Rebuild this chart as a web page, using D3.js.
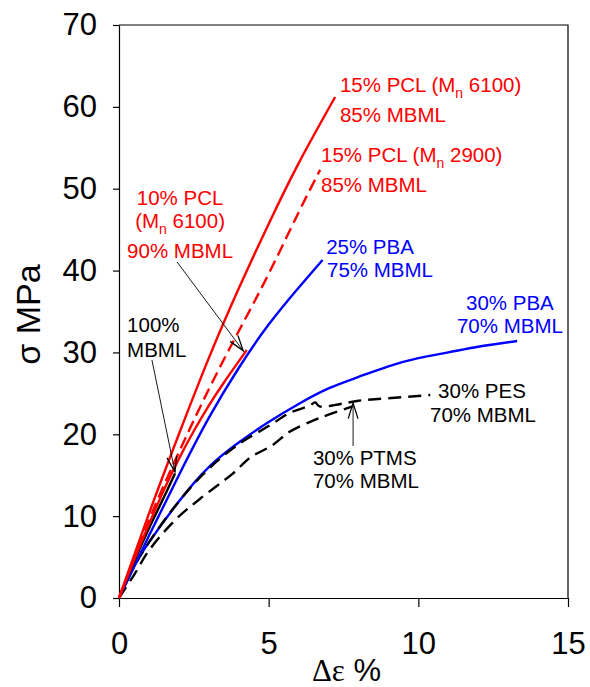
<!DOCTYPE html>
<html>
<head>
<meta charset="utf-8">
<script src="https://cdn.jsdelivr.net/npm/d3@7"></script>
<style>
  body { margin: 0; background: #fff; }
  text { font-family: "Liberation Sans", Arial, sans-serif; }
</style>
</head>
<body>
<script>
// curves: [strain %, stress MPa]
const pcl15_6100 = [[0,0],[1,10.3],[2,20],[3,29.3],[4,37.8],[5,45.7],[6,53.1],[7.22,61.2]];
const pcl15_2900 = [[0,0],[1,9.5],[2,17.8],[3,25.5],[4,32.6],[5,39.6],[6,47.1],[6.72,52.3]];
const pcl10_6100 = [[0,0],[0.5,4.6],[1,9],[1.5,13.2],[2,17],[2.5,20.4],[3,23.5],[3.5,26.3],[4.27,30.3]];
const pba25 = [[0,0],[1,7.6],[2,15],[3,22],[4,28.1],[5,33.4],[6,37.9],[6.8,41.3]];
const pba30 = [[0,0],[0.5,3.8],[1,6.8],[2,11.8],[3,16],[4,19],[5,21.5],[6,23.7],[7,25.6],[8,27],[9,28.3],[10,29.3],[11,30],[12,30.7],[13.3,31.4]];
const pes30 = [[0,0],[0.5,3.8],[1,6.8],[2,11.8],[3,15.8],[4,18.8],[5,21],[5.7,22.6],[6.37,23.5],[6.55,23.9],[6.7,23.4],[7.4,23.7],[8,24.1],[9,24.4],[10.4,24.8]];
const ptms30 = [[0,0],[0.5,2.8],[1,5.8],[1.87,9.5],[2.7,12.1],[3.8,15.2],[4.4,17.2],[5.1,18.6],[5.7,20.3],[6.5,21.7],[7,22.4],[7.8,23.4]];
const mbml100 = [[0,0],[0.5,4.4],[1,8.5],[1.5,12.3],[1.87,15.2]];

const xTicks = [0, 5, 10, 15];
const yTicks = [0, 10, 20, 30, 40, 50, 60, 70];

const width = 590;
const height = 687;

const x = d3.scaleLinear().domain([0, 15]).range([119, 568]);
const y = d3.scaleLinear().domain([0, 70]).range([598, 25]);

const svg = d3.select("body").append("svg")
    .attr("width", width)
    .attr("height", height);

// arrow head, open V
svg.append("defs").append("marker")
    .attr("id", "arrow")
    .attr("viewBox", "0 -5 12 10")
    .attr("refX", 11)
    .attr("refY", 0)
    .attr("orient", "auto")
    .attr("markerUnits", "userSpaceOnUse")
    .attr("markerWidth", 18)
    .attr("markerHeight", 14)
  .append("path")
    .attr("d", "M0,-3.5L11,0L0,3.5")
    .attr("fill", "none")
    .attr("stroke", "#000")
    .attr("stroke-width", 0.9);

// frame: top and right
svg.append("path")
    .attr("d", `M${x(0)},${y(70)}H${x(15)}V${y(0)}`)
    .attr("fill", "none")
    .attr("stroke", "#000")
    .attr("stroke-width", 1.2);

const xAxis = svg.append("g")
    .attr("transform", `translate(0,${y(0)})`)
    .call(d3.axisBottom(x).tickValues(xTicks).tickSize(9).tickPadding(25).tickSizeOuter(0));

const yAxis = svg.append("g")
    .attr("transform", `translate(${x(0)},0)`)
    .call(d3.axisLeft(y).tickValues(yTicks).tickSize(6).tickPadding(16).tickSizeOuter(0));

[xAxis, yAxis].forEach(g => {
  g.select(".domain").attr("stroke-width", 1.2);
  g.selectAll(".tick line").attr("stroke-width", 1.2);
  g.selectAll(".tick text")
      .attr("font-family", "Liberation Sans, Arial, sans-serif")
      .attr("font-size", 31)
      .attr("fill", "#000");
});

// axis titles
svg.append("text")
    .attr("transform", `translate(40,${(y(0) + y(70)) / 2 + 3}) rotate(-90)`)
    .attr("text-anchor", "middle")
    .attr("font-size", 34)
    .text("σ MPa");

const xt = svg.append("text")
    .attr("x", (x(0) + x(15)) / 2 + 3)
    .attr("y", 681)
    .attr("text-anchor", "middle")
    .attr("font-size", 31);
xt.append("tspan").attr("font-family", "Liberation Serif, serif").text("Δε");
xt.append("tspan").text(" %");

// curves: smooth ones with a natural spline, the kinked dashed ones with catmull-rom
const smooth = d3.line()
    .x(d => x(d[0]))
    .y(d => y(d[1]))
    .curve(d3.curveNatural);

const rough = d3.line()
    .x(d => x(d[0]))
    .y(d => y(d[1]))
    .curve(d3.curveCatmullRom.alpha(0.5));

const curves = [
  { data: pba30, color: "#0000ff", dash: null, line: smooth },
  { data: pes30, color: "#000", dash: "13,7", line: rough },
  { data: ptms30, color: "#000", dash: "13,7", line: rough },
  { data: pba25, color: "#0000ff", dash: null, line: smooth },
  { data: mbml100, color: "#000", dash: null, line: smooth },
  { data: pcl10_6100, color: "#ff0000", dash: null, line: smooth },
  { data: pcl15_2900, color: "#ff0000", dash: "12,6", line: smooth },
  { data: pcl15_6100, color: "#ff0000", dash: null, line: smooth }
];

svg.append("g")
  .selectAll("path")
  .data(curves)
  .join("path")
    .attr("d", d => d.line(d.data))
    .attr("fill", "none")
    .attr("stroke", d => d.color)
    .attr("stroke-width", 2.4)
    .attr("stroke-dasharray", d => d.dash);

// labels, positions in data units
function label(px, py, color, anchor) {
  return svg.append("text")
      .attr("x", x(px))
      .attr("y", y(py))
      .attr("fill", color)
      .attr("font-size", 20.5)
      .attr("text-anchor", anchor || "start");
}

function mnLabel(t, pre, num) {
  t.append("tspan").text(pre + "(M");
  t.append("tspan").attr("font-size", 14).attr("dy", 6).text("n");
  t.append("tspan").attr("dy", -6).text(" " + num + ")");
}

mnLabel(label(7.38, 61.8, "#ff0000"), "15% PCL ", "6100");
label(7.38, 58.15, "#ff0000").text("85% MBML");
mnLabel(label(6.75, 53.26, "#ff0000"), "15% PCL ", "2900");
label(6.75, 49.6, "#ff0000").text("85% MBML");

label(2.04, 48.0, "#ff0000", "middle").text("10% PCL");
mnLabel(label(2.04, 45.2, "#ff0000", "middle"), "", "6100");
label(2.04, 41.5, "#ff0000", "middle").text("90% MBML");

label(6.92, 42.0, "#0000ff").text("25% PBA");
label(6.95, 39.2, "#0000ff").text("75% MBML");
label(13.06, 35.2, "#0000ff", "middle").text("30% PBA");
label(13.06, 32.4, "#0000ff", "middle").text("70% MBML");

label(0.27, 32.5, "#000").text("100%");
label(0.27, 29.4, "#000").text("MBML");
label(10.66, 24.43, "#000").text("30% PES");
label(10.39, 21.5, "#000").text("70% MBML");
label(6.48, 16.25, "#000").text("30% PTMS");
label(6.48, 13.44, "#000").text("70% MBML");

// pointer arrows
const arrows = [
  [[1.94, 41.05], [4.15, 30.2]],
  [[1.10, 29.07], [1.87, 15.4]],
  [[7.82, 18.57], [7.82, 23.8]]
];

svg.append("g")
  .selectAll("line")
  .data(arrows)
  .join("line")
    .attr("x1", d => x(d[0][0]))
    .attr("y1", d => y(d[0][1]))
    .attr("x2", d => x(d[1][0]))
    .attr("y2", d => y(d[1][1]))
    .attr("stroke", "#000")
    .attr("stroke-width", 0.9)
    .attr("marker-end", "url(#arrow)");
</script>
</body>
</html>
